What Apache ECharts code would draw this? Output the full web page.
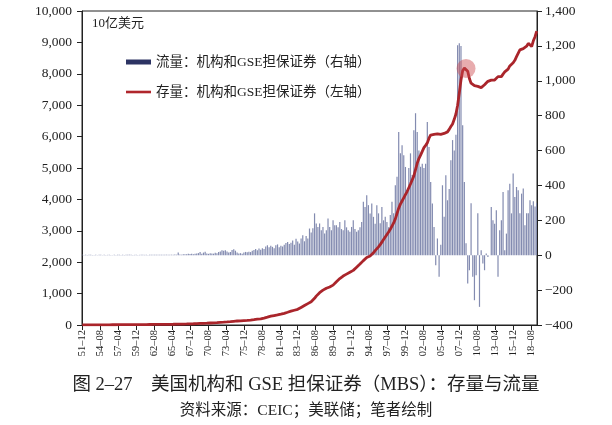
<!DOCTYPE html>
<html>
<head>
<meta charset="utf-8">
<script src="https://cdn.jsdelivr.net/npm/echarts@6/dist/echarts.min.js"></script>
<style>
html,body{margin:0;padding:0;background:#fff;}
#chart{width:612px;height:425px;}
</style>
</head>
<body>
<div id="chart"></div>
<script>
// ---- data (quarterly, 1951Q4 .. 2019Q2), billions of USD ----
const startYear = 1951, startMonth = 12, endYear = 2019, endMonth = 6;

const tickLabels = ['51–12','54–08','57–04','59–12','62–08','65–04','67–12','70–08','73–04','75–12',
  '78–08','81–04','83–12','86–08','89–04','91–12','94–08','97–04','99–12','02–08',
  '05–04','07–12','10–08','13–04','15–12','18–08'];

// flow (right axis), annual rate
const flow = [
  2,
  1,2,1,2, 2,1,1,2, 1,2,2,1, 2,1,2,2, 1,1,2,1, 2,2,1,2, 1,2,2,3, 2,1,2,2,
  1,2,3,2, 2,2,1,3, 2,3,2,2, 3,2,2,3, 2,3,3,2, 3,2,4,3,
  15,4,3,5, 6,5,8,7, 8,6,9,10, 12,18,8,15,
  20,10,8,12, 10,9,14,12, 18,22,29,25, 29,22,15,18, 30,34,26,15,
  10,12,8,15, 19,17,20,18, 25,30,35,28, 38,32,40,36, 50,57,45,55,
  48,40,57,62, 45,55,50,60, 70,76,65,72, 85,60,95,78, 67,96,115,80,
  110,96,153,130, 155,240,182,162, 182,143,162,125, 143,210,162,143, 201,172,172,160,
  191,150,143,201, 160,143,134,162, 201,150,134,143, 160,190,306,277, 344,287,239,296,
  220,180,287,240, 183,277,200,220, 190,160,230,306, 240,401,450,707, 584,630,573,506,
  373,500,584,460, 717,814,707,600, 507,525,500,525, 764,621,420,296, 162,-57,96,-124,
  60,401,220,459, 315,380,545,660, 600,690,1204,1215, 1200,745,420,68, -162,-86,298,-124,
  -258,-115,240,-296, 28,-48,-86,10, -10,0,277,200, 180,258,-124,143, 200,363,28,124,
  372,410,240,468, 334,391,372,240, 353,382,172,240, 240,315,286,310,
  280,300
];

// stock (left axis)
const stock = [
  3,
  3,4,4,4, 4,5,5,5, 5,6,6,6, 6,7,7,7, 7,8,8,8, 8,9,9,9, 10,10,10,11, 11,11,12,12,
  12,13,13,14, 14,15,15,16, 16,17,17,18, 18,19,19,20, 21,21,22,23, 23,24,25,26,
  28,29,30,31, 32,33,35,37, 38,40,42,44, 47,49,51,53,
  55,58,61,64, 67,70,73,76, 79,83,87,90, 94,98,103,107, 112,118,124,128,
  131,134,137,141, 145,148,152,156, 160,168,176,184, 188,192,205,218, 232,248,265,280,
  292,300,310,320, 332,345,358,372, 388,405,422,440, 458,470,482,500, 530,560,590,620,
  650,680,710,740, 780,850,920,980, 1030,1070,1110,1140, 1170,1190,1210,1230, 1270,1330,1380,1430,
  1480,1520,1560,1600, 1620,1650,1680,1700, 1740,1790,1840,1890, 1940,1990,2050,2110, 2150,2180,2200,2230,
  2300,2370,2430,2490, 2560,2640,2720,2800, 2880,2960,3050,3150, 3250,3380,3550,3720, 3850,3950,4050,4150,
  4250,4370,4490,4620, 4750,4950,5150,5300, 5410,5530,5650,5720, 5800,5950,6050,6080, 6070,6060,6090,6080,
  6070,6090,6100,6120, 6150,6230,6320,6400, 6550,6720,7000,7390, 7800,8100,8180,8170, 8080,7850,7700,7650,
  7620,7590,7600,7580, 7560,7590,7650,7700, 7760,7820,7800,7790, 7800,7850,7910,7880, 7910,7990,8060,8080,
  8150,8250,8280,8350, 8430,8545,8560,8760, 8720,8800,8810,8880, 8970,8930,8870,9050,
  9180,9360
];

const peakLabel = '08–12';
const peakValue = 8170;

const flowName = '流量：机构和GSE担保证券（右轴）';
const stockName = '存量：机构和GSE担保证券（左轴）';

// ---- build monthly category axis ----
const months = [];
{
  let y = startYear, m = startMonth;
  while (y < endYear || (y === endYear && m <= endMonth)) {
    months.push(String(y % 100).padStart(2, '0') + '–' + String(m).padStart(2, '0'));
    m++; if (m > 12) { m = 1; y++; }
  }
}
const flowData = flow.map((v, j) => [3 * j, v]);
const stockData = stock.map((v, j) => [3 * j, v]);
const showTick = (i, v) => tickLabels.indexOf(v) >= 0;

const serif = "'Liberation Serif', 'Noto Sans CJK SC', serif";
const cjk = "'Liberation Serif', 'Noto Sans CJK SC', sans-serif";
const legendText = {fontFamily: cjk, fontSize: 13.5, color: '#222', lineHeight: 16};

const chart = echarts.init(document.getElementById('chart'), null, {renderer: 'canvas'});
chart.setOption({
  animation: false,
  backgroundColor: '#fff',
  grid: {left: 82, right: 75, top: 11, bottom: 100, show: true, borderColor: '#222', borderWidth: 1, backgroundColor: 'transparent'},
  legend: [
    {
      orient: 'vertical', left: 126, top: 54, padding: 0, itemWidth: 25, itemHeight: 5,
      textStyle: legendText,
      data: [{name: flowName, icon: 'rect', itemStyle: {color: '#2c3363'}}]
    },
    {
      orient: 'vertical', left: 126, top: 84, padding: 0, itemWidth: 25, itemHeight: 2.6,
      textStyle: legendText,
      data: [{name: stockName, icon: 'rect', itemStyle: {color: '#b0262c'}}]
    }
  ],
  xAxis: {
    type: 'category', data: months, boundaryGap: true,
    axisLine: {lineStyle: {color: '#222', width: 1}},
    axisTick: {show: true, interval: showTick, alignWithLabel: true, length: 5, lineStyle: {color: '#222'}},
    axisLabel: {interval: showTick, rotate: 90, margin: 5, fontSize: 10.5, fontFamily: serif, color: '#222'},
    splitLine: {show: false}
  },
  yAxis: [
    {
      type: 'value', min: 0, max: 10000, interval: 1000, position: 'left',
      axisLine: {show: true, lineStyle: {color: '#222', width: 1}},
      axisTick: {show: true, length: 5, lineStyle: {color: '#222'}},
      axisLabel: {margin: 10, fontSize: 13.5, fontFamily: serif, color: '#222',
        formatter: v => v.toString().replace(/\B(?=(\d{3})+(?!\d))/g, ',')},
      splitLine: {show: false}
    },
    {
      type: 'value', min: -400, max: 1400, interval: 200, position: 'right',
      axisLine: {show: true, lineStyle: {color: '#222', width: 1}},
      axisTick: {show: true, length: 5, lineStyle: {color: '#222'}},
      axisLabel: {margin: 8, fontSize: 13.5, fontFamily: serif, color: '#222',
        formatter: v => (v < 0 ? '−' : '') + Math.abs(v).toString().replace(/\B(?=(\d{3})+(?!\d))/g, ',')},
      splitLine: {show: false}
    }
  ],
  series: [
    {
      name: flowName, type: 'bar', yAxisIndex: 1, data: flowData,
      barWidth: 1.2, itemStyle: {color: '#838bb0'}, z: 2
    },
    {
      name: stockName, type: 'line', yAxisIndex: 0, data: stockData,
      showSymbol: false, symbol: 'none', lineStyle: {color: '#aa252b', width: 2.8}, itemStyle: {color: '#aa252b'},
      z: 3,
      markPoint: {
        symbol: 'circle', symbolSize: 19, silent: true,
        label: {show: false},
        itemStyle: {color: 'rgba(205,70,75,0.45)'},
        data: [{coord: [peakLabel, peakValue]}]
      }
    }
  ],
  graphic: [
    {type: 'text', left: 92, top: 17, style: {text: '10亿美元', font: "13px " + cjk, fill: '#222'}},
    {type: 'text', left: 'center', top: 376, style: {text: '图 2–27　美国机构和 GSE 担保证券（MBS）：存量与流量', font: "18.5px " + cjk, fill: '#222'}},
    {type: 'text', left: 'center', top: 403, style: {text: '资料来源：CEIC；美联储；笔者绘制', font: "15.5px " + cjk, fill: '#222'}}
  ]
});
</script>
</body>
</html>
